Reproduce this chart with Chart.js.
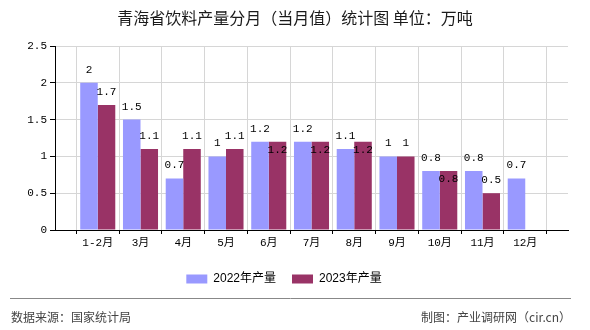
<!DOCTYPE html>
<html>
<head>
<meta charset="utf-8">
<title>青海省饮料产量分月（当月值）统计图</title>
<script src="https://cdn.jsdelivr.net/npm/chart.js@4/dist/chart.umd.min.js"></script>
<style>
    body { margin: 0; background: #fff; }
    #wrap { width: 590px; height: 330px; }
</style>
</head>
<body>
<div id="wrap"><canvas id="chart" width="590" height="330"></canvas></div>
<script>
    "use strict";

    // Data
    var months = ['1-2月', '3月', '4月', '5月', '6月', '7月', '8月', '9月', '10月', '11月', '12月'];
    var output2022 = [2, 1.5, 0.7, 1, 1.2, 1.2, 1.1, 1, 0.8, 0.8, 0.7];
    var output2023 = [1.7, 1.1, 1.1, 1.1, 1.2, 1.2, 1.2, 1, 0.8, 0.5, null];
    var seriesNames = ['2022年产量', '2023年产量'];
    var yMin = 0, yMax = 2.5, yStep = 0.5;

    var titleText = '青海省饮料产量分月（当月值）统计图 单位：万吨';
    var sourceText = '数据来源：国家统计局';
    var creditText = '制图：产业调研网（cir.cn）';

    // empty slot at each end so the months sit on gridlines
    var xLabels = [''].concat(months, ['']);
    function pad(arr) { return [null].concat(arr, [null]); }

    var monoFont = '"Liberation Mono", "Noto Sans CJK SC", monospace';
    var cjkFont = '"Noto Sans CJK SC", sans-serif';

    // Title, footer
    var decorations = {
        id: 'decorations',
        afterDraw: function (chart) {
            var ctx = chart.ctx;
            ctx.save();
            ctx.fillStyle = '#1a1a1a';
            ctx.font = '16px ' + cjkFont;
            ctx.textAlign = 'center';
            ctx.textBaseline = 'middle';
            ctx.fillText(titleText, 295, 18);

            ctx.strokeStyle = '#888';
            ctx.lineWidth = 1;
            ctx.beginPath();
            ctx.moveTo(10, 298.5);
            ctx.lineTo(571, 298.5);
            ctx.stroke();

            ctx.fillStyle = '#444';
            ctx.font = '12px ' + cjkFont;
            ctx.textAlign = 'left';
            ctx.fillText(sourceText, 11, 317);
            ctx.textAlign = 'right';
            ctx.fillText(creditText, 571, 317);
            ctx.restore();
        }
    };

    // Value labels above bars; a 2023 label that would collide goes inside its bar
    var barLabels = {
        id: 'barLabels',
        afterDatasetsDraw: function (chart) {
            var ctx = chart.ctx;
            var m0 = chart.getDatasetMeta(0), m1 = chart.getDatasetMeta(1);
            var d0 = chart.data.datasets[0].data, d1 = chart.data.datasets[1].data;
            ctx.save();
            ctx.font = '11px ' + monoFont;
            ctx.fillStyle = '#000';
            ctx.textAlign = 'center';
            ctx.textBaseline = 'middle';
            for (var i = 0; i < d0.length; i++) {
                var a = null;
                if (d0[i] !== null) {
                    var b0 = m0.data[i];
                    a = { x: b0.x, y: b0.y - 13, w: ctx.measureText(String(d0[i])).width };
                    ctx.fillText(String(d0[i]), a.x, a.y);
                }
                if (d1[i] !== null) {
                    var b1 = m1.data[i];
                    var t = String(d1[i]);
                    var w = ctx.measureText(t).width;
                    var y = b1.y - 13;
                    if (a && Math.abs(b1.x - a.x) < (w + a.w) / 2 + 1 && Math.abs(y - a.y) < 11) {
                        y = b1.y + 8;
                    }
                    ctx.fillText(t, b1.x, y);
                }
            }
            ctx.restore();
        }
    };

    var ctx = document.getElementById('chart').getContext('2d');
    var myChart = new Chart(ctx, {
        type: 'bar',
        data: {
            labels: xLabels,
            datasets: [{
                label: seriesNames[0],
                data: pad(output2022),
                backgroundColor: '#9999ff'
            }, {
                label: seriesNames[1],
                data: pad(output2023),
                backgroundColor: '#993366'
            }]
        },
        options: {
            responsive: false,
            animation: false,
            layout: { padding: { top: 46, right: 22, bottom: 35, left: 0 } },
            datasets: {
                bar: { categoryPercentage: 0.82, barPercentage: 1 }
            },
            scales: {
                x: {
                    offset: false,
                    grid: { color: '#d6d6d6', tickColor: '#000', tickLength: 4 },
                    border: { color: '#000' },
                    ticks: {
                        autoSkip: false, maxRotation: 0, padding: 2,
                        color: '#000', font: { family: monoFont, size: 11 }
                    },
                    afterFit: function (scale) { scale.height = 27; }
                },
                y: {
                    min: yMin,
                    max: yMax,
                    grid: { color: '#d6d6d6', tickColor: '#000', tickLength: 5 },
                    border: { color: '#000' },
                    ticks: {
                        stepSize: yStep, padding: 3,
                        color: '#000', font: { family: monoFont, size: 11 },
                        callback: function (v) { return String(v); }
                    },
                    afterFit: function (scale) { scale.width = 55; }
                }
            },
            plugins: {
                legend: {
                    position: 'bottom',
                    labels: {
                        boxWidth: 21, boxHeight: 9, padding: 16,
                        color: '#000', font: { family: '"Liberation Sans", ' + cjkFont, size: 12 }
                    }
                },
                tooltip: { enabled: false }
            }
        },
        plugins: [barLabels, decorations]
    });
</script>
</body>
</html>
